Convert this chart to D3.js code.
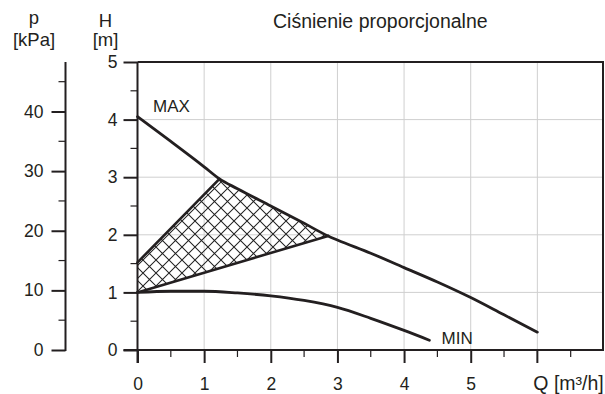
<!DOCTYPE html>
<html><head><meta charset="utf-8">
<script src="https://cdn.jsdelivr.net/npm/d3@7"></script>
<style>
html,body{margin:0;padding:0;background:#fff;}
svg{display:block;font-family:"Liberation Sans",Arial,Helvetica,sans-serif;}
</style></head>
<body>
<svg id="chart" width="605" height="394"></svg>
<script>
// ---- data ----
const title = "Ciśnienie proporcjonalne";
const maxQ = [0, 0.5, 1, 1.23, 1.5, 2, 2.5, 2.86, 3, 3.5, 4, 4.5, 5, 5.5, 6];
const maxH = [4.05, 3.62, 3.18, 2.97, 2.80, 2.50, 2.20, 1.98, 1.91, 1.68, 1.43, 1.18, 0.91, 0.61, 0.31];
const minQ = [0, 0.5, 1, 1.5, 2, 2.5, 3, 3.5, 4, 4.38];
const minH = [1.00, 1.02, 1.02, 0.99, 0.94, 0.86, 0.74, 0.55, 0.34, 0.17];
const zoneUpperQ = [0, 1.23];
const zoneUpperH = [1.52, 2.97];
const zoneLowerQ = [0, 2.86];
const zoneLowerH = [1.00, 1.98];
const qTicks = [0, 1, 2, 3, 4, 5];
const qLabel = "Q [m³/h]";
const hTicks = [0, 1, 2, 3, 4, 5];
const pTicks = [0, 10, 20, 30, 40];
const pMinor = [5, 15, 25, 35, 45];

// ---- layout ----
const svg = d3.select("#chart");
const X0 = 137.5, X1 = 604, Y0 = 350, Y1 = 62;
const x = d3.scaleLinear().domain([0, 7]).range([X0, X1]);
const y = d3.scaleLinear().domain([0, 5]).range([Y0, Y1]);
const p = d3.scaleLinear().domain([0, 48.3]).range([Y0, Y1]);
const FS = 17.5;
const ink = "#231f20";

// grid
const g = svg.append("g");
g.selectAll(".vg").data(d3.range(1, 7)).join("line")
  .attr("x1", d => x(d)).attr("x2", d => x(d)).attr("y1", Y1).attr("y2", Y0)
  .attr("stroke", "#cfcfcf").attr("stroke-width", 1);
g.selectAll(".hg").data(d3.range(1, 5)).join("line")
  .attr("x1", X0).attr("x2", X1).attr("y1", d => y(d)).attr("y2", d => y(d))
  .attr("stroke", "#cfcfcf").attr("stroke-width", 1);

// hatch pattern
const defs = svg.append("defs");
const hs = 13;
const pat = defs.append("pattern").attr("id", "hatch").attr("patternUnits", "userSpaceOnUse")
  .attr("width", hs).attr("height", hs);
pat.append("path").attr("d", `M-1,-1L${hs+1},${hs+1}M-1,${hs+1}L${hs+1},-1`)
  .attr("stroke", "#222").attr("stroke-width", 1.05).attr("fill", "none");

// hatched zone polygon
const upper = zoneUpperQ.map((q, i) => [q, zoneUpperH[i]]);
const maxPts = maxQ.map((q, i) => [q, maxH[i]]);
const onMax = maxPts.filter(d => d[0] > zoneUpperQ[1] && d[0] < zoneLowerQ[1]);
const lower = zoneLowerQ.map((q, i) => [q, zoneLowerH[i]]);
const poly = [...upper, ...onMax, lower[1], lower[0]];
svg.append("path")
  .attr("d", d3.line().x(d => x(d[0])).y(d => y(d[1]))(poly) + "Z")
  .attr("fill", "url(#hatch)").attr("stroke", "none");

// axes frame
const frame = svg.append("g").attr("stroke", ink).attr("fill", "none");
frame.append("line").attr("x1", X0).attr("x2", X1).attr("y1", Y1).attr("y2", Y1).attr("stroke-width", 2);
frame.append("line").attr("x1", X1 - 1).attr("x2", X1 - 1).attr("y1", Y1).attr("y2", Y0).attr("stroke-width", 2);

// H axis (left of plot)
const hAxis = d3.axisLeft(y).tickValues(hTicks).tickSize(14).tickPadding(6).tickFormat(d3.format("d"));
const hA = svg.append("g").attr("transform", `translate(${X0},0)`).call(hAxis);
hA.select(".domain").remove();
hA.append("line").attr("x1", 0).attr("x2", 0).attr("y1", Y1).attr("y2", Y0 + 13).attr("stroke", ink).attr("stroke-width", 2);
hA.selectAll(".tick line").attr("stroke", ink).attr("stroke-width", 2);
hA.selectAll(".tick text").attr("font-size", FS).attr("fill", ink).attr("font-family", null);
hA.selectAll(".minor").data(d3.range(0.5, 5, 1)).join("line")
  .attr("x1", -7).attr("x2", 0).attr("y1", d => y(d)).attr("y2", d => y(d))
  .attr("stroke", ink).attr("stroke-width", 1.2);

// Q axis
const qAxis = d3.axisBottom(x).tickValues(qTicks).tickSize(13).tickPadding(15).tickFormat(d3.format("d"));
const qA = svg.append("g").attr("transform", `translate(0,${Y0})`).call(qAxis);
qA.select(".domain").remove();
qA.append("line").attr("x1", X0 - 14).attr("x2", X1).attr("y1", 0).attr("y2", 0).attr("stroke", ink).attr("stroke-width", 2);
qA.selectAll(".tick line").attr("stroke", ink).attr("stroke-width", 2);
qA.selectAll(".tick text").attr("font-size", FS).attr("fill", ink).attr("font-family", null);
qA.selectAll(".maj6").data([6]).join("line")
  .attr("x1", d => x(d)).attr("x2", d => x(d)).attr("y1", 0).attr("y2", 13).attr("stroke", ink).attr("stroke-width", 2);
qA.selectAll(".minor").data(d3.range(0.5, 7, 1)).join("line")
  .attr("x1", d => x(d)).attr("x2", d => x(d)).attr("y1", 0).attr("y2", 7).attr("stroke", ink).attr("stroke-width", 1.2);
qA.append("text").attr("x", x(6) - 4).attr("y", 40).attr("text-anchor", "start")
  .attr("font-size", 19.5).attr("fill", ink).text(qLabel);

// p axis
const PX = 65.5;
const pAxis = d3.axisLeft(p).tickValues(pTicks).tickSize(14).tickPadding(8).tickFormat(d3.format("d"));
const pA = svg.append("g").attr("transform", `translate(${PX},0)`).call(pAxis);
pA.select(".domain").remove();
pA.append("line").attr("x1", 0).attr("x2", 0).attr("y1", Y1).attr("y2", Y0 + 1).attr("stroke", ink).attr("stroke-width", 2);
pA.selectAll(".tick line").attr("stroke", ink).attr("stroke-width", 2);
pA.selectAll(".tick text").attr("font-size", FS).attr("fill", ink).attr("font-family", null);
pA.selectAll(".minor").data(pMinor).join("line")
  .attr("x1", -7).attr("x2", 0).attr("y1", d => p(d)).attr("y2", d => p(d))
  .attr("stroke", ink).attr("stroke-width", 1.2);

// curves
const line = d3.line().x(d => x(d[0])).y(d => y(d[1])).curve(d3.curveMonotoneX);
const lineLin = d3.line().x(d => x(d[0])).y(d => y(d[1]));
svg.append("path").attr("d", line(maxPts)).attr("fill", "none").attr("stroke", ink).attr("stroke-width", 2.8).attr("stroke-linecap", "round");
svg.append("path").attr("d", line(minQ.map((q, i) => [q, minH[i]]))).attr("fill", "none").attr("stroke", ink).attr("stroke-width", 2.8).attr("stroke-linecap", "round");
svg.append("path").attr("d", lineLin(upper)).attr("fill", "none").attr("stroke", ink).attr("stroke-width", 2.6).attr("stroke-linecap", "round");
svg.append("path").attr("d", lineLin(lower)).attr("fill", "none").attr("stroke", ink).attr("stroke-width", 2.6).attr("stroke-linecap", "round");

// labels
const txt = (t, xx, yy, anchor, fs) => svg.append("text").attr("x", xx).attr("y", yy)
  .attr("text-anchor", anchor).attr("font-size", fs || FS).attr("fill", ink).text(t);
txt("MAX", 153, 112, "start", 17);
txt("MIN", 441.5, 344, "start", 17);
txt("p", 34, 24, "middle", 18.5);
txt("[kPa]", 34, 46, "middle", 18.5);
txt("H", 105.5, 27, "middle", 18.5);
txt("[m]", 105.5, 46, "middle", 18.5);
txt(title, 273, 28, "start", 19.5);
</script>
</body></html>
